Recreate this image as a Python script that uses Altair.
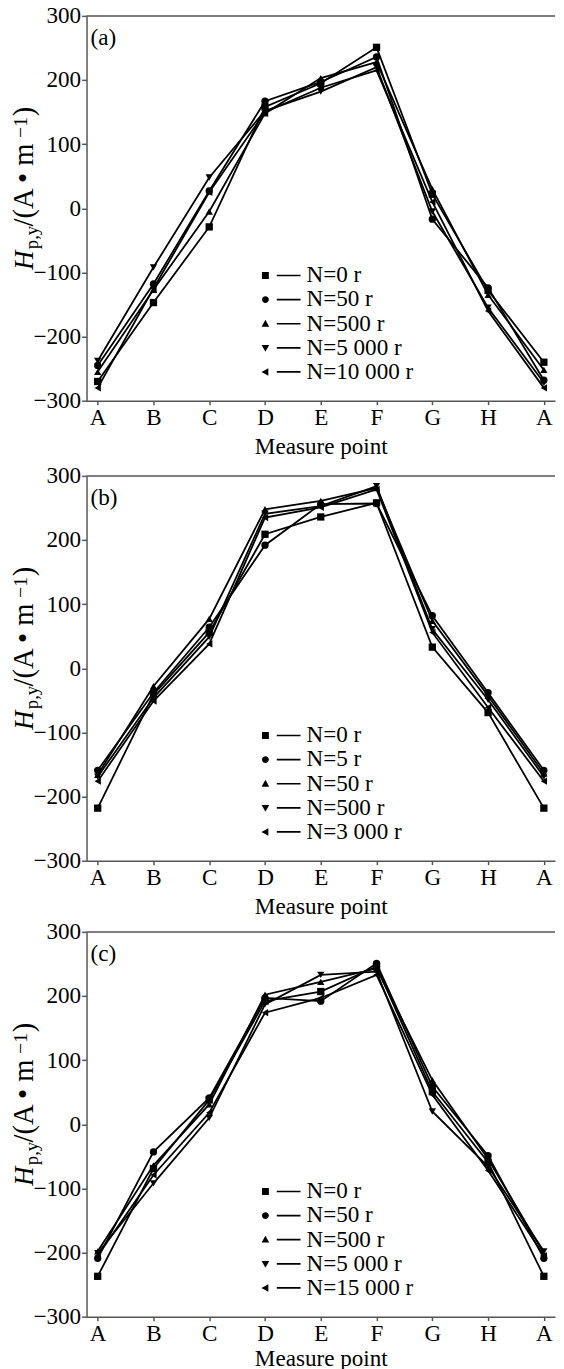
import altair as alt
import pandas as pd

FONT = "Liberation Serif"
FS = 23.5
W, H = 476, 391

points = ["A", "B", "C", "D", "E", "F", "G", "H", "A"]
shapes = ["square", "circle", "triangle-up", "triangle-down", "triangle-left"]
y_ticks = [-300, -200, -100, 0, 100, 200, 300]

# ---- panel (a)
labels_a = ["N=0 r", "N=50 r", "N=500 r", "N=5 000 r", "N=10 000 r"]
a_n0 = [-270, -147, -29, 158, 195, 251, 22, -128, -240]
a_n50 = [-245, -118, 27, 167, 197, 236, -17, -124, -268]
a_n500 = [-255, -127, -5, 148, 203, 228, 30, -135, -252]
a_n5000 = [-238, -92, 48, 152, 182, 220, -5, -155, -272]
a_n10000 = [-280, -125, 25, 150, 188, 215, 10, -160, -280]

# ---- panel (b)
labels_b = ["N=0 r", "N=5 r", "N=50 r", "N=500 r", "N=3 000 r"]
b_n0 = [-218, -41, 56, 209, 236, 258, 33, -69, -218]
b_n5 = [-159, -38, 64, 192, 256, 257, 82, -38, -159]
b_n50 = [-166, -28, 77, 248, 261, 281, 74, -43, -164]
b_n500 = [-169, -46, 49, 241, 253, 284, 61, -49, -169]
b_n3000 = [-176, -51, 38, 235, 251, 279, 56, -61, -176]

# ---- panel (c)
labels_c = ["N=0 r", "N=50 r", "N=500 r", "N=5 000 r", "N=15 000 r"]
c_n0 = [-237, -69, 38, 192, 207, 246, 51, -59, -237]
c_n50 = [-209, -43, 41, 197, 192, 251, 59, -49, -209]
c_n500 = [-198, -64, 31, 202, 222, 243, 69, -54, -201]
c_n5000 = [-201, -92, 10, 187, 233, 238, 20, -66, -198]
c_n15000 = [-205, -79, 18, 174, 197, 233, 46, -72, -205]

panels = [
    ("(a)", labels_a, [a_n0, a_n50, a_n500, a_n5000, a_n10000], 6),
    ("(b)", labels_b, [b_n0, b_n5, b_n50, b_n500, b_n3000], 6),
    ("(c)", labels_c, [c_n0, c_n50, c_n500, c_n5000, c_n15000], 2),
]

# legend symbols: marker + short line (unit = sqrt(size)/2 px)
LINE = "M3.3,-0.24H10.2V0.24H3.3Z"
legend_paths = [
    "M-1,-1H1V1H-1Z " + LINE,
    "M1,0A1,1,0,1,1,-1,0A1,1,0,1,1,1,0Z " + LINE,
    "M0,-1.15L1.1,0.85H-1.1Z " + LINE,
    "M0,1.15L1.1,-0.85H-1.1Z " + LINE,
    "M-1.15,0L0.85,-1.1V1.1Z " + LINE,
]

label_expr = "[" + ",".join("'%s'" % p for p in points) + "][datum.value]"

# y-axis title pieces: (text, size, italic, x-baseline offset, advance)
title_pieces = [
    ("H", 27, True, 0, 21),
    ("p,y", 19, False, 5, 23),
    ("/(A \u2022 m", 29, False, 0, 90),
    ("\u22121", 20, False, -7, 22),
    (")", 29, False, 0, 10),
]


def panel(tag, labels, series, tpad):
    rows = []
    for s, vals in zip(labels, series):
        for i, v in enumerate(vals):
            rows.append({"idx": i, "value": v, "series": s})
    df = pd.DataFrame(rows)

    xenc = alt.X(
        "idx:Q",
        scale=alt.Scale(domain=[-0.2, 8.2], nice=False, zero=False),
        axis=alt.Axis(values=list(range(len(points))), labelExpr=label_expr,
                      tickSize=4, labelPadding=1, title="Measure point",
                      titlePadding=tpad),
    )
    yenc = alt.Y(
        "value:Q",
        scale=alt.Scale(domain=[-300, 300], nice=False, zero=False),
        axis=alt.Axis(values=y_ticks, tickSize=5, labelPadding=1, title=None),
    )
    base = alt.Chart(df)
    lines = base.mark_line(color="black", strokeWidth=1.8).encode(
        x=xenc, y=yenc, detail="series:N", order="idx:Q")
    pts = base.mark_point(filled=True, color="black", size=55, opacity=1).encode(
        x=xenc, y=yenc,
        shape=alt.Shape("series:N", scale=alt.Scale(domain=labels, range=shapes),
                        legend=None))
    leg = base.transform_filter("datum.idx < 0").mark_point(
        filled=True, color="black", opacity=1).encode(
        x=xenc, y=yenc,
        shape=alt.Shape("series:N", scale=alt.Scale(domain=labels, range=legend_paths),
                        legend=alt.Legend(orient="none", legendX=170, legendY=252,
                                          title=None, padding=0, symbolSize=49,
                                          labelFont=FONT, labelFontSize=FS,
                                          labelColor="black", labelOffset=30,
                                          rowPadding=-0.5, labelLimit=0,
                                          symbolFillColor="black",
                                          symbolOpacity=1)))
    one = pd.DataFrame({"t": [tag]})
    top = alt.Chart(one).mark_rule(color="#555", strokeWidth=1.5).encode(
        x=alt.value(0), x2=alt.value(W), y=alt.value(0))
    letter = alt.Chart(one).mark_text(font=FONT, fontSize=FS, align="left",
                                      baseline="alphabetic", color="black").encode(
        text="t:N", x=alt.value(4), y=alt.value(30))
    layers = [lines, pts, leg, top, letter]
    ypos = 258
    for txt, fs, it, off, adv in title_pieces:
        layers.append(
            alt.Chart(pd.DataFrame({"t": [txt]})).mark_text(
                font=FONT, fontSize=fs, fontStyle="italic" if it else "normal",
                angle=270, align="left", baseline="alphabetic", color="black"
            ).encode(text="t:N", x=alt.value(-54 + off), y=alt.value(ypos)))
        ypos -= adv
    return alt.layer(*layers).resolve_scale(shape="independent").properties(
        width=W, height=H)


pa, pb, pc = [panel(*p) for p in panels]
lower = alt.vconcat(pb, pc, spacing=2.3)
chart = alt.vconcat(pa, lower, spacing=6.4).properties(
    padding={"left": 2.8, "top": -15, "right": 0, "bottom": 0}
).configure_view(stroke=None).configure_axis(
    labelFont=FONT, labelFontSize=FS, labelColor="black",
    titleFont=FONT, titleFontSize=FS, titleColor="black", titleFontWeight="normal",
    domainColor="#555", tickColor="#555", domainWidth=1.5, tickWidth=1.5, grid=False,
)

chart.save("out.html", embed_options={"renderer": "svg", "actions": False})
